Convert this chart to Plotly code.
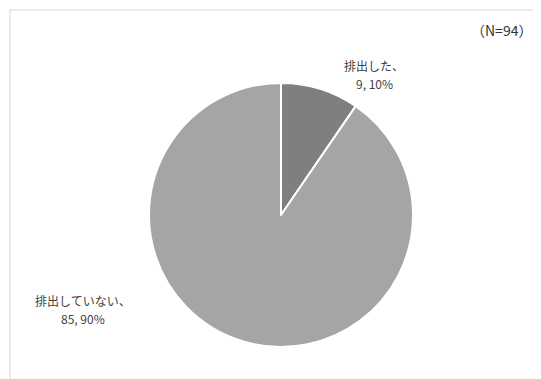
import plotly.graph_objects as go

labels = ["排出した", "排出していない"]
values = [9, 85]
percents = ["10%", "90%"]
colors = ["#7f7f7f", "#a5a5a5"]
n_total = 94

W, H = 541, 379
OFF = 8  # page body margin offset
cx, cy, r = 281 - OFF, 215 - OFF, 132

fig = go.Figure(go.Pie(
    labels=labels, values=values, sort=False, direction="clockwise", rotation=0,
    marker=dict(colors=colors, line=dict(color="white", width=2)),
    textinfo="none", hoverinfo="label+value+percent", showlegend=False,
    domain=dict(x=[(cx - r) / W, (cx + r) / W], y=[(H - cy - r) / H, (H - cy + r) / H]),
))

font = dict(family="Noto Sans CJK JP", size=12, color="#404040")
label_pos = [(374, 65), (83, 300)]
for lab, v, p, (x, y) in zip(labels, values, percents, label_pos):
    for i, t in enumerate([f"{lab}、", f"{v}, {p}"]):
        fig.add_annotation(x=(x - OFF) / W, y=1 - (y - OFF + 18 * i) / H,
                           xref="paper", yref="paper", text=t, showarrow=False,
                           font=font, xanchor="center", yanchor="middle")

fig.add_annotation(x=(501 - OFF) / W, y=1 - (30 - OFF) / H, xref="paper", yref="paper",
                   text=f"（N={n_total}）", showarrow=False,
                   font=dict(family="Noto Sans CJK JP", size=14, color="#333333"),
                   xanchor="center", yanchor="middle")

fig.add_shape(type="rect", xref="paper", yref="paper",
              x0=(10 - OFF) / W, x1=1.05, y0=-0.05, y1=1 - (10 - OFF) / H,
              line=dict(color="#e3e3e3", width=1.5), fillcolor="rgba(0,0,0,0)")

fig.update_layout(width=W, height=H, margin=dict(l=0, r=0, t=0, b=0),
                  paper_bgcolor="white", plot_bgcolor="white")
fig.write_html("out.html")
